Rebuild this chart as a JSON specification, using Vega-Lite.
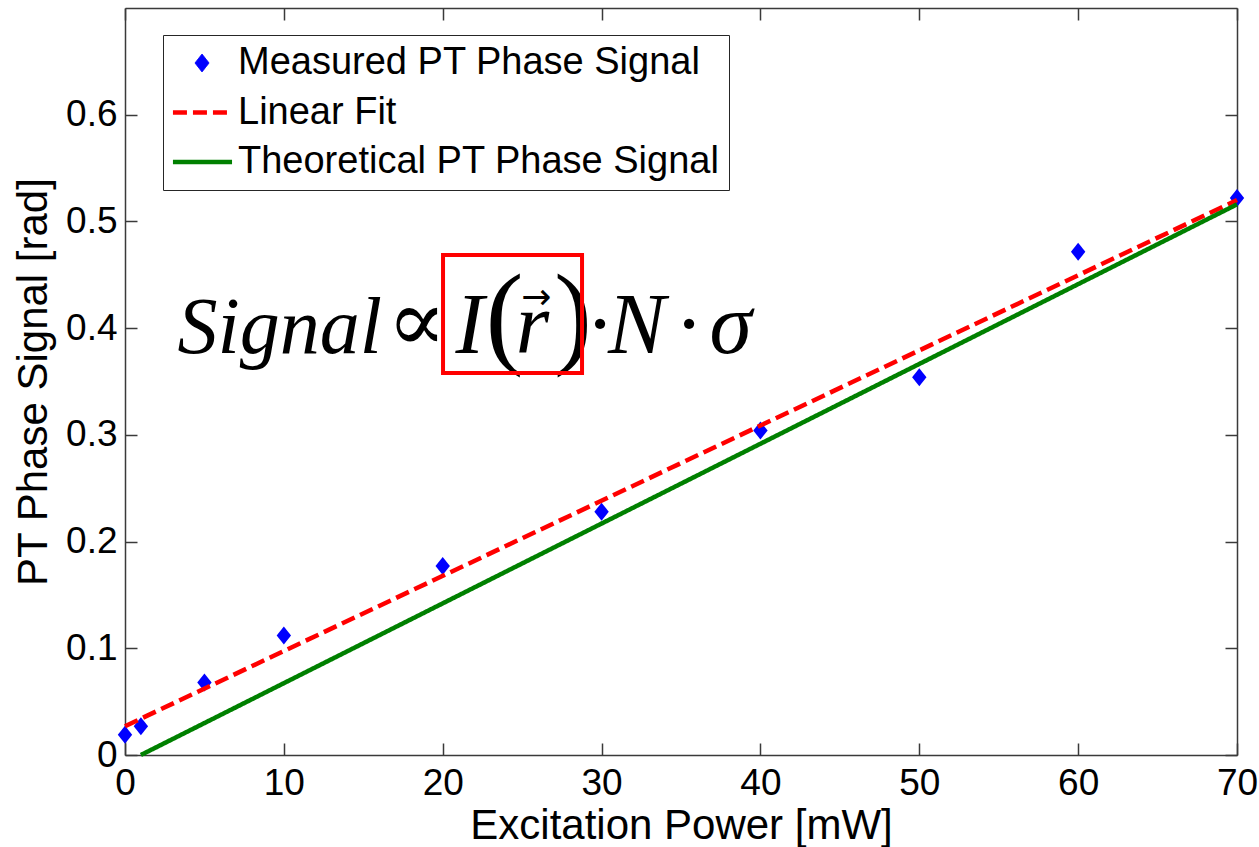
{
  "$schema": "https://vega.github.io/schema/vega-lite/v6.json",
  "width": 1112,
  "height": 747,
  "autosize": {"type": "none"},
  "padding": {"left": 125, "top": 8, "right": 22, "bottom": 92},
  "background": "white",
  "config": {
    "view": {"stroke": null},
    "font": "Liberation Sans",
    "axis": {
      "grid": false,
      "domainColor": "#3a3a3a",
      "domainWidth": 1.5,
      "tickColor": "#3a3a3a",
      "tickWidth": 1.5,
      "tickSize": -12,
      "labelFont": "Liberation Sans",
      "labelFontSize": 37,
      "labelColor": "#000000",
      "titleFont": "Liberation Sans",
      "titleFontSize": 42,
      "titleFontWeight": "normal",
      "titleColor": "#000000",
      "labelFlush": false,
      "labelOverlap": false
    },
    "legend": {
      "orient": "none",
      "legendX": 38,
      "legendY": 27,
      "labelFont": "Liberation Sans",
      "labelFontSize": 38,
      "labelColor": "#000000",
      "labelOffset": 28,
      "labelLimit": 0,
      "padding": 9,
      "rowPadding": 11.5,
      "symbolSize": 1444,
      "strokeColor": "#262626",
      "fillColor": "#ffffff",
      "title": null
    }
  },
  "datasets": {
    "measured": [
      {"power": 0, "signal": 0.019, "series": "Measured PT Phase Signal"},
      {"power": 1, "signal": 0.027, "series": "Measured PT Phase Signal"},
      {"power": 5, "signal": 0.068, "series": "Measured PT Phase Signal"},
      {"power": 10, "signal": 0.112, "series": "Measured PT Phase Signal"},
      {"power": 20, "signal": 0.177, "series": "Measured PT Phase Signal"},
      {"power": 30, "signal": 0.228, "series": "Measured PT Phase Signal"},
      {"power": 40, "signal": 0.304, "series": "Measured PT Phase Signal"},
      {"power": 50, "signal": 0.354, "series": "Measured PT Phase Signal"},
      {"power": 60, "signal": 0.4715, "series": "Measured PT Phase Signal"},
      {"power": 70, "signal": 0.522, "series": "Measured PT Phase Signal"}
    ],
    "lines": [
      {"power": 0, "signal": 0.027, "series": "Linear Fit"},
      {"power": 70, "signal": 0.520, "series": "Linear Fit"},
      {"power": 1, "signal": 0.0, "series": "Theoretical PT Phase Signal"},
      {"power": 70, "signal": 0.516, "series": "Theoretical PT Phase Signal"}
    ]
  },
  "layer": [
    {
      "data": {"name": "measured"},
      "mark": {"type": "point", "shape": "M0,-1L0.8,0L0,1L-0.8,0Z", "filled": true, "size": 324, "opacity": 1, "color": "#0000ff", "clip": false},
      "encoding": {
        "x": {
          "field": "power", "type": "quantitative",
          "scale": {"domain": [0, 70], "nice": false, "zero": false},
          "axis": {"orient": "bottom", "values": [0, 10, 20, 30, 40, 50, 60, 70], "title": "Excitation Power [mW]", "labelPadding": 22, "titlePadding": 4}
        },
        "y": {
          "field": "signal", "type": "quantitative",
          "scale": {"domain": [0, 0.7], "nice": false, "zero": false},
          "axis": {"orient": "left", "values": [0, 0.1, 0.2, 0.3, 0.4, 0.5, 0.6], "format": ".1~f", "title": "PT Phase Signal [rad]", "labelPadding": 20, "titlePadding": 10}
        }
      }
    },
    {
      "data": {"name": "lines"},
      "mark": {"type": "line", "strokeWidth": 4.5, "clip": false},
      "encoding": {
        "x": {
          "field": "power", "type": "quantitative",
          "scale": {"domain": [0, 70], "nice": false, "zero": false},
          "axis": {"orient": "top", "values": [0, 10, 20, 30, 40, 50, 60, 70], "labels": false, "title": null}
        },
        "y": {
          "field": "signal", "type": "quantitative",
          "scale": {"domain": [0, 0.7], "nice": false, "zero": false},
          "axis": {"orient": "right", "values": [0, 0.1, 0.2, 0.3, 0.4, 0.5, 0.6], "labels": false, "title": null}
        },
        "color": {
          "field": "series", "type": "nominal",
          "scale": {"domain": ["Measured PT Phase Signal", "Linear Fit", "Theoretical PT Phase Signal"], "range": ["#0000ff", "#ff0000", "#008000"]},
          "legend": {
            "symbolType": "stroke",
            "symbolStrokeWidth": 0,
            "encode": {"symbols": {"update": {
              "shape": {"signal": "datum.value === 'Measured PT Phase Signal' ? 'M0.58,-0.47L0.95,0L0.58,0.47L0.21,0Z' : 'M-0.95,0L2.16,0'"},
              "fill": {"signal": "datum.value === 'Measured PT Phase Signal' ? '#0000ff' : 'transparent'"},
              "strokeWidth": {"signal": "datum.value === 'Measured PT Phase Signal' ? 1 : 4.5"},
              "strokeDash": {"signal": "datum.value === 'Linear Fit' ? [14, 6] : [1, 0]"},
              "opacity": {"value": 1}
            }}}
          }
        },
        "strokeDash": {
          "field": "series", "type": "nominal",
          "scale": {"domain": ["Linear Fit", "Theoretical PT Phase Signal"], "range": [[14, 6], [1, 0]]},
          "legend": null
        },
        "order": {"field": "power", "type": "quantitative"}
      }
    },
    {
      "data": {"values": [{}]},
      "mark": {"type": "text", "text": "Signal", "font": "Liberation Serif", "fontStyle": "italic", "fontSize": 80, "align": "left", "baseline": "alphabetic", "color": "#000000"},
      "encoding": {"x": {"datum": 3.3, "type": "quantitative", "axis": null}, "y": {"datum": 0.3767, "type": "quantitative", "axis": null}}
    },
    {
      "data": {"values": [{}]},
      "mark": {"type": "text", "text": "∝", "font": "DejaVu Serif", "fontSize": 88, "align": "left", "baseline": "alphabetic", "color": "#000000"},
      "encoding": {"x": {"datum": 16.5, "type": "quantitative", "axis": null}, "y": {"datum": 0.379, "type": "quantitative", "axis": null}}
    },
    {
      "data": {"values": [{}]},
      "mark": {"type": "text", "text": "I", "font": "Liberation Serif", "fontStyle": "italic", "fontSize": 86, "align": "left", "baseline": "alphabetic", "color": "#000000"},
      "encoding": {"x": {"datum": 20.8, "type": "quantitative", "axis": null}, "y": {"datum": 0.3767, "type": "quantitative", "axis": null}}
    },
    {
      "data": {"values": [{}]},
      "mark": {"type": "text", "text": "(", "font": "Liberation Serif", "fontSize": 114, "align": "left", "baseline": "alphabetic", "color": "#000000"},
      "encoding": {"x": {"datum": 22.7, "type": "quantitative", "axis": null}, "y": {"datum": 0.3767, "type": "quantitative", "axis": null}}
    },
    {
      "data": {"values": [{}]},
      "mark": {"type": "text", "text": "r", "font": "Liberation Serif", "fontStyle": "italic", "fontSize": 86, "align": "left", "baseline": "alphabetic", "color": "#000000"},
      "encoding": {"x": {"datum": 24.6, "type": "quantitative", "axis": null}, "y": {"datum": 0.3767, "type": "quantitative", "axis": null}}
    },
    {
      "data": {"values": [{}]},
      "mark": {"type": "text", "text": "→", "font": "DejaVu Sans", "fontSize": 36, "align": "center", "baseline": "middle", "color": "#000000"},
      "encoding": {"x": {"datum": 25.9, "type": "quantitative", "axis": null}, "y": {"datum": 0.4282, "type": "quantitative", "axis": null}}
    },
    {
      "data": {"values": [{}]},
      "mark": {"type": "text", "text": ")", "font": "Liberation Serif", "fontSize": 114, "align": "left", "baseline": "alphabetic", "color": "#000000"},
      "encoding": {"x": {"datum": 27.0, "type": "quantitative", "axis": null}, "y": {"datum": 0.3767, "type": "quantitative", "axis": null}}
    },
    {
      "data": {"values": [{}]},
      "mark": {"type": "text", "text": "·", "font": "Liberation Serif", "fontSize": 86, "align": "left", "baseline": "alphabetic", "color": "#000000"},
      "encoding": {"x": {"datum": 29.0, "type": "quantitative", "axis": null}, "y": {"datum": 0.3767, "type": "quantitative", "axis": null}}
    },
    {
      "data": {"values": [{}]},
      "mark": {"type": "text", "text": "N", "font": "Liberation Serif", "fontStyle": "italic", "fontSize": 86, "align": "left", "baseline": "alphabetic", "color": "#000000"},
      "encoding": {"x": {"datum": 30.4, "type": "quantitative", "axis": null}, "y": {"datum": 0.3767, "type": "quantitative", "axis": null}}
    },
    {
      "data": {"values": [{}]},
      "mark": {"type": "text", "text": "·", "font": "Liberation Serif", "fontSize": 86, "align": "left", "baseline": "alphabetic", "color": "#000000"},
      "encoding": {"x": {"datum": 34.6, "type": "quantitative", "axis": null}, "y": {"datum": 0.3767, "type": "quantitative", "axis": null}}
    },
    {
      "data": {"values": [{}]},
      "mark": {"type": "text", "text": "σ", "font": "Liberation Serif", "fontStyle": "italic", "fontSize": 86, "align": "left", "baseline": "alphabetic", "color": "#000000"},
      "encoding": {"x": {"datum": 36.8, "type": "quantitative", "axis": null}, "y": {"datum": 0.3767, "type": "quantitative", "axis": null}}
    },
    {
      "data": {"values": [{}]},
      "mark": {"type": "rect", "fill": null, "fillOpacity": 0, "stroke": "#ff0000", "strokeWidth": 4},
      "encoding": {
        "x": {"datum": 20.02, "type": "quantitative", "axis": null},
        "x2": {"datum": 28.77},
        "y": {"datum": 0.358, "type": "quantitative", "axis": null},
        "y2": {"datum": 0.4686}
      }
    }
  ],
  "resolve": {"axis": {"x": "independent", "y": "independent"}}
}
